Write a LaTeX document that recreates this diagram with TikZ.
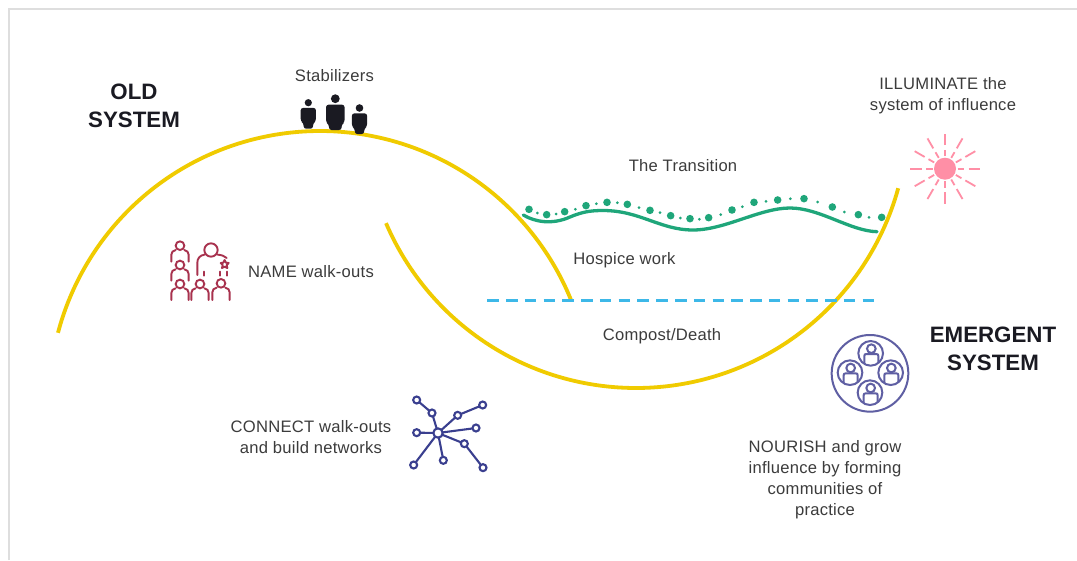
\documentclass[tikz,border=0pt]{standalone}
\usetikzlibrary{calc}
\usepackage{fontspec}
\setmainfont{Liberation Sans}
\newfontfamily\lblfont[LetterSpace=1.5]{Liberation Sans}
\definecolor{ylw}{HTML}{F0CB00}
\definecolor{grn}{HTML}{1FA67A}
\definecolor{blu}{HTML}{3DB8E8}
\definecolor{redi}{HTML}{A8324E}
\definecolor{purp}{HTML}{5F5FA3}
\definecolor{navy}{HTML}{3A3F8F}
\definecolor{pinkk}{HTML}{FF8FA6}
\definecolor{txt}{HTML}{3C3C3C}
\definecolor{blk}{HTML}{1A1A22}
\tikzset{
 lbl/.style={font=\lblfont\fontsize{16.6}{21}\selectfont,text=txt,align=center,inner sep=0pt},
 head/.style={font=\fontsize{22.3}{28}\selectfont\bfseries,text=blk,align=center,inner sep=0pt},
 arcline/.style={draw=ylw,line width=3.8pt,line cap=butt},
}
\newcommand{\personblk}[5]{%
 \fill[blk] (#1,#2) circle (#3);
 \fill[blk,rounded corners=2.4pt] ({#1-#4},{#2+#3+1.6}) -- ({#1+#4},{#2+#3+1.6}) -- ({#1+#4},{#5-7.5}) -- ({#1+#4-2.8},{#5-5.5}) -- ({#1+#4-3},#5) -- ({#1-#4+3},#5) -- ({#1-#4+2.8},{#5-5.5}) -- ({#1-#4},{#5-7.5}) -- cycle;}
\newcommand{\redp}[3]{%
 \draw (#1,#2) circle (13);
 \draw[line cap=round] ({#1-26},#3) -- ({#1-26},{#2+27}) .. controls ({#1-26},{#2+19}) and ({#1-21},{#2+15}) .. ({#1-13},{#2+13});
 \draw[line cap=round] ({#1+26},#3) -- ({#1+26},{#2+27}) .. controls ({#1+26},{#2+19}) and ({#1+21},{#2+15}) .. ({#1+13},{#2+13});}
\newcommand{\purpp}[2]{%
 \draw (#1,#2) circle (37);
 \draw ({#1+2},{#2-14}) circle (13);
 \begin{scope}
 \clip (#1,#2) circle (37);
 \draw ({#1-19},{#2+40}) -- ({#1-19},{#2+8}) .. controls ({#1-19},{#2+4}) and ({#1-17},{#2+2}) .. ({#1-13},{#2+2}) -- ({#1+17},{#2+2}) .. controls ({#1+21},{#2+2}) and ({#1+23},{#2+4}) .. ({#1+23},{#2+8}) -- ({#1+23},{#2+40});
 \end{scope}}
\begin{document}
\begin{tikzpicture}[x=1pt,y=-1pt]
\useasboundingbox (0,0) rectangle (1077,560);
\fill[white] (0,0) rectangle (1077,560);
\draw[draw=black!13,line width=2pt] (9,560) -- (9,9) -- (1077,9);
\draw[arcline,smooth] plot[domain=194.8:337.8,samples=120] ({320+271*cos(\x)},{402+271*sin(\x)});
\draw[arcline,smooth] plot[domain=156.8:15.4,samples=120] ({636+272*cos(\x)},{116+272*sin(\x)});
\draw[draw=blu,line width=3.6pt,dash pattern=on 11.5pt off 7.27pt] (487.3,300.3) -- (874.5,300.3);
\draw[draw=grn,line width=3.3pt,line cap=round] (523.3,215) .. controls (535,222) and (552,225) .. (570,217) .. controls (582,212) and (590,210.5) .. (603,210.5) .. controls (640,210.5) and (660,230) .. (693,230) .. controls (725,230) and (760,208) .. (790,208) .. controls (820,208) and (850,231) .. (877,231.7);
\begin{scope}[shift={(510,180)},x=1pt/3,y=-1pt/3]
\foreach \a/\b in {57/88,110/104,164/95,228/77,291/67,352/73,420/91,482/107,540/116,596/113,666/90,732/67,803/60,882/56,967/81,1045/104,1115/112}
  \fill[grn] (\a,\b) circle (3.8pt);
\foreach \a/\b in {82/99,138/102,196/88,259/71,322/68,387/83,450/98,511/114,568/118,632/104,697/80,768/64,841/56,923/66,1003/96,1077/112}
  \fill[grn] (\a,\b) circle (1.5pt);
\end{scope}
\personblk{308.3}{102.7}{3.6}{7.6}{128.7}
\personblk{335.3}{98.7}{4.4}{9.2}{130}
\personblk{359.5}{108}{3.8}{7.6}{134}
\begin{scope}[shift={(150,220)},x=1pt/3,y=-1pt/3,draw=redi,line width=1.9pt]
\redp{90}{77}{125}
\redp{90}{135}{182}
\redp{90}{192}{240}
\redp{150}{192}{240}
\redp{213}{190}{240}
\draw (183,90) circle (20);
\draw[line cap=round] (142,165) -- (142,128) .. controls (142,115) and (150,106) .. (163,104);
\draw[line cap=round] (203,104) .. controls (215,105) and (224,108) .. (230,114);
\draw[line cap=round] (162,155) -- (162,167);
\draw[line cap=round] (210,155) -- (210,167);
\draw[line cap=round] (232,155) -- (232,167);
\draw[line join=round] (224,120) -- (228,128) -- (236,129) -- (230,135) -- (232,144) -- (224,140) -- (216,144) -- (218,135) -- (212,129) -- (220,128) -- cycle;
\end{scope}
\begin{scope}[shift={(400,385)},x=1pt/3,y=-1pt/3,draw=navy,line width=2.1pt]
\coordinate (c) at (114,144);
\coordinate (a1) at (96,84); \coordinate (a2) at (50,45);
\coordinate (b1) at (173,91); \coordinate (b2) at (248,60);
\coordinate (d) at (228,129);
\coordinate (e1) at (193,176); \coordinate (e2) at (249,248);
\coordinate (f) at (130,226);
\coordinate (g) at (41,240);
\coordinate (h) at (50,143);
\draw (c) -- (a1) -- (a2);
\draw (c) -- (b1) -- (b2);
\draw (c) -- (d);
\draw (c) -- (e1) -- (e2);
\draw (c) -- (f);
\draw (c) -- (g);
\draw (c) -- (h);
\foreach \n in {a1,a2,b1,b2,d,e1,e2,f,g,h}
  \filldraw[fill=white] (\n) circle (10.5);
\filldraw[fill=white] (c) circle (14);
\end{scope}
\begin{scope}[shift={(820,325)},x=1pt/3,y=-1pt/3,draw=purp,line width=2pt]
\draw (150,145) circle (115);
\purpp{152}{85}
\purpp{90}{143}
\purpp{212}{143}
\purpp{150}{203}
\end{scope}
\fill[pinkk] (945,168.7) circle (11);
\foreach \t in {0,30,...,330}{
 \draw[draw=pinkk,line width=1.8pt] ($(945,168.7)+(\t:12.5pt)$) -- ($(945,168.7)+(\t:19pt)$);
 \draw[draw=pinkk,line width=1.8pt] ($(945,168.7)+(\t:23.5pt)$) -- ($(945,168.7)+(\t:35pt)$);
}
\node[head] (oldsys) at (134,106) {OLD\\SYSTEM};
\node[head] (emsys) at (993,349) {EMERGENT\\SYSTEM};
\node[lbl] (stab) at (334.5,76) {Stabilizers};
\node[lbl] (illum) at (943,95.5) {ILLUMINATE the\\system of influence};
\node[lbl] (trans) at (683,166) {The Transition};
\node[lbl] (hosp) at (624.5,260.5) {Hospice work};
\node[lbl] (comp) at (662,336.5) {Compost/Death};
\node[lbl] (name) at (311,272) {NAME walk-outs};
\node[lbl] (conn) at (311,437.5) {CONNECT walk-outs\\and build networks};
\node[lbl] (nour) at (825,479.5) {NOURISH and grow\\influence by forming\\communities of\\practice};
\end{tikzpicture}
\end{document}
